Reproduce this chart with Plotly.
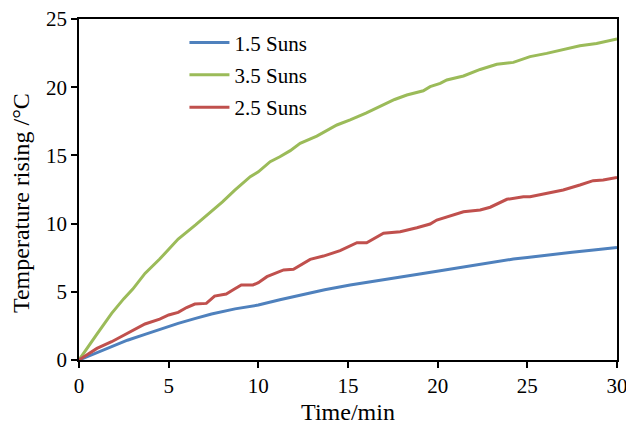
import plotly.graph_objects as go

# 1.5 Suns
t_blue = [0, 1, 1.82, 2.7, 3.68, 4.6, 5.53, 6.5, 7.39, 8.7, 9.55, 10.0, 11.2, 12.33, 13.7,
          15.12, 16.5, 17.91, 19.0, 20.14, 21.3, 22.5, 24.22, 25.0, 26.2, 27.5, 28.7, 30]
v_blue = [0, 0.55, 0.98, 1.45, 1.88, 2.3, 2.69, 3.05, 3.37, 3.75, 3.91, 4.03, 4.42, 4.77, 5.15,
          5.5, 5.78, 6.04, 6.3, 6.55, 6.8, 7.02, 7.4, 7.52, 7.72, 7.9, 8.07, 8.24]

# 3.5 Suns
t_green = [0, 0.5, 1, 1.82, 2.5, 3, 3.68, 4.5, 5.53, 6.5, 7.39, 8.0, 8.69, 9.55, 10.0, 10.66,
           11.2, 11.78, 12.33, 13.26, 14.38, 15.12, 16.0, 16.98, 17.6, 18.28, 19.2, 19.58,
           20.14, 20.51, 21.44, 22.37, 23.3, 24.22, 25.15, 26.08, 27.0, 27.93, 28.86, 30]
v_green = [0, 1.0, 1.9, 3.42, 4.5, 5.2, 6.35, 7.4, 8.87, 9.9, 10.87, 11.6, 12.46, 13.44, 13.8,
           14.54, 14.9, 15.35, 15.89, 16.42, 17.23, 17.6, 18.1, 18.7, 19.1, 19.43, 19.74, 20.04,
           20.28, 20.53, 20.82, 21.3, 21.68, 21.82, 22.24, 22.48, 22.77, 23.04, 23.21, 23.53]

# 2.5 Suns
t_red = [0, 0.5, 1.0, 1.82, 2.7, 3.68, 4.5, 5.0, 5.53, 6.0, 6.46, 7.1, 7.56, 8.21, 8.6, 9.05,
         9.7, 10.0, 10.48, 11.41, 11.96, 12.89, 13.63, 14.56, 15.5, 16.04, 16.98, 17.91, 18.84,
         19.58, 19.95, 20.51, 21.44, 22.37, 22.93, 23.86, 24.78, 25.15, 26.08, 27.0, 27.93,
         28.67, 29.23, 30]
v_red = [0, 0.45, 0.85, 1.34, 1.95, 2.64, 3.0, 3.3, 3.49, 3.85, 4.1, 4.15, 4.69, 4.84, 5.15, 5.5,
         5.5, 5.67, 6.11, 6.6, 6.65, 7.38, 7.62, 8.02, 8.6, 8.6, 9.29, 9.41, 9.7, 9.97, 10.26,
         10.51, 10.87, 11.0, 11.2, 11.78, 11.97, 11.97, 12.22, 12.46, 12.83, 13.15, 13.2, 13.39]

names = ["1.5 Suns", "3.5 Suns", "2.5 Suns"]
colors = ["#4F81BD", "#9BBB59", "#C0504D"]
x_ticks = [0, 5, 10, 15, 20, 25, 30]
y_ticks = [0, 5, 10, 15, 20, 25]
x_title = "Time/min"
y_title = "Temperature rising /°C"

FONT = "Liberation Serif, Times New Roman, serif"

fig = go.Figure()
for t, v, n, c in zip([t_blue, t_green, t_red], [v_blue, v_green, v_red], names, colors):
    fig.add_trace(go.Scatter(x=t, y=v, name=n, mode="lines", legendgroup=n,
                             line=dict(color=c, width=3)))

fig.update_layout(
    width=626, height=427,
    margin=dict(l=79, r=9, t=19, b=67),
    paper_bgcolor="white", plot_bgcolor="white",
    font=dict(family=FONT, size=21, color="black"),
    showlegend=True,
    legend=dict(x=0.196, y=0.99, xanchor="left", yanchor="top",
                bgcolor="rgba(0,0,0,0)", font=dict(family=FONT, size=21, color="black"),
                tracegroupgap=2, itemwidth=40),
    annotations=[dict(text=y_title, xref="paper", yref="paper", x=-0.108, y=0.46,
                      xanchor="center", yanchor="middle", textangle=-90,
                      showarrow=False, font=dict(family=FONT, size=24, color="black"))],
)
fig.update_xaxes(range=[0, 30], tickvals=x_ticks, ticks="outside", ticklen=6,
                 tickwidth=1.5, tickcolor="black", showline=True, linecolor="black",
                 linewidth=1.5, mirror=True, showgrid=False, zeroline=False,
                 automargin=False, ticklabeloverflow="allow",
                 title=dict(text=x_title, font=dict(size=24, color="black"), standoff=6),
                 tickfont=dict(size=21, color="black"))
fig.update_yaxes(range=[0, 25], tickvals=y_ticks, ticks="outside", ticklen=6,
                 tickwidth=1.5, tickcolor="black", showline=True, linecolor="black",
                 linewidth=1.5, mirror=True, showgrid=False, zeroline=False,
                 automargin=False, ticklabeloverflow="allow",
                 tickfont=dict(size=21, color="black"))

fig.write_html("out.html")
